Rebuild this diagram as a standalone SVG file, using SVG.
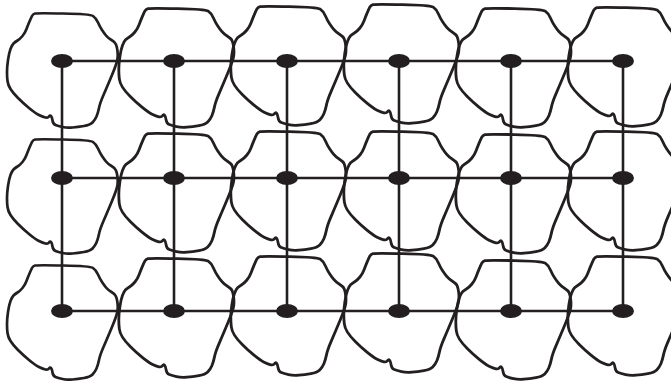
<svg xmlns="http://www.w3.org/2000/svg" width="671" height="381" viewBox="0 0 671 381">
<style>
.blob{fill:none;stroke:#231f20;stroke-width:2.7;stroke-linejoin:round}
.dot{fill:#231f20}
.conn line{stroke:#231f20;stroke-width:2.6}
</style>
<defs>
<path id="b" class="blob" d="M-27,-47.5 Q-24,-48 1.5,-47.5 Q28,-47 31,-45 Q34,-43 36,-38.5 Q38,-34 40,-31 Q42,-28 44,-25.5 Q46,-23 49.5,-21 Q53,-19 54,-16.5 Q55,-14 55.5,-10 Q56,-6 55.5,-2 Q55,2 50,14 Q45,26 41.5,34 Q38,42 37,47 Q36,52 34.5,55.5 Q33,59 30.5,61.5 Q28,64 22,65 Q16,66 10.5,66.5 Q5,67 0.5,66 Q-4,65 -6.5,64 Q-9,63 -9.5,59.5 Q-10,56 -11,55 Q-12,54 -13,55.5 Q-14,57 -16.5,56.5 Q-19,56 -23,54 Q-27,52 -33,47 Q-39,42 -44,37 Q-49,32 -51.5,28 Q-54,24 -54.5,20 Q-55,16 -55,11 Q-55,6 -54,-1 Q-53,-8 -51.5,-12 Q-50,-16 -48.5,-17.5 Q-47,-19 -44.5,-20.5 Q-42,-22 -39.5,-25 Q-37,-28 -35.5,-32 Q-34,-36 -32.5,-39.5 Q-31,-43 -30,-45 Q-29,-47 -27,-47.5 Z"/>
</defs>
<g id="connectors" class="conn">
<line x1="62" y1="61" x2="623" y2="61"/>
<line x1="62" y1="178" x2="623" y2="178"/>
<line x1="62" y1="311" x2="623" y2="311"/>
<line x1="62" y1="61" x2="62" y2="311"/>
<line x1="174" y1="61" x2="174" y2="311"/>
<line x1="287" y1="61" x2="287" y2="311"/>
<line x1="399" y1="61" x2="399" y2="311"/>
<line x1="511" y1="61" x2="511" y2="311"/>
<line x1="623" y1="61" x2="623" y2="311"/>
</g>
<g id="n11"><use href="#b" transform="translate(62,61)"/><ellipse class="dot" cx="62" cy="61" rx="11" ry="7"/></g>
<g id="n12"><use href="#b" transform="translate(176,58) scale(1.04)"/><ellipse class="dot" cx="174" cy="61" rx="11" ry="7"/></g>
<g id="n13"><use href="#b" transform="translate(288,56) scale(1.04)"/><ellipse class="dot" cx="287" cy="61" rx="11" ry="7"/></g>
<g id="n14"><use href="#b" transform="translate(401,54) scale(1.04)"/><ellipse class="dot" cx="399" cy="61" rx="11" ry="7"/></g>
<g id="n15"><use href="#b" transform="translate(513,58) scale(1.04)"/><ellipse class="dot" cx="511" cy="61" rx="11" ry="7"/></g>
<g id="n16"><use href="#b" transform="translate(625,57) scale(1.04)"/><ellipse class="dot" cx="623" cy="61" rx="11" ry="7"/></g>
<g id="n21"><use href="#b" transform="translate(62,187)"/><ellipse class="dot" cx="62" cy="178" rx="11" ry="7"/></g>
<g id="n22"><use href="#b" transform="translate(176,183) scale(1.04)"/><ellipse class="dot" cx="174" cy="178" rx="11" ry="7"/></g>
<g id="n23"><use href="#b" transform="translate(288,181) scale(1.04)"/><ellipse class="dot" cx="287" cy="178" rx="11" ry="7"/></g>
<g id="n24"><use href="#b" transform="translate(401,181) scale(1.04)"/><ellipse class="dot" cx="399" cy="178" rx="11" ry="7"/></g>
<g id="n25"><use href="#b" transform="translate(513,184) scale(1.04)"/><ellipse class="dot" cx="511" cy="178" rx="11" ry="7"/></g>
<g id="n26"><use href="#b" transform="translate(625,181) scale(1.04)"/><ellipse class="dot" cx="623" cy="178" rx="11" ry="7"/></g>
<g id="n31"><use href="#b" transform="translate(62,313)"/><ellipse class="dot" cx="62" cy="311" rx="11" ry="7"/></g>
<g id="n32"><use href="#b" transform="translate(176,308) scale(1.04)"/><ellipse class="dot" cx="174" cy="311" rx="11" ry="7"/></g>
<g id="n33"><use href="#b" transform="translate(288,306) scale(1.04)"/><ellipse class="dot" cx="287" cy="311" rx="11" ry="7"/></g>
<g id="n34"><use href="#b" transform="translate(401,303) scale(1.04)"/><ellipse class="dot" cx="399" cy="311" rx="11" ry="7"/></g>
<g id="n35"><use href="#b" transform="translate(513,310) scale(1.04)"/><ellipse class="dot" cx="511" cy="311" rx="11" ry="7"/></g>
<g id="n36"><use href="#b" transform="translate(625,306) scale(1.04)"/><ellipse class="dot" cx="623" cy="311" rx="11" ry="7"/></g>
</svg>
